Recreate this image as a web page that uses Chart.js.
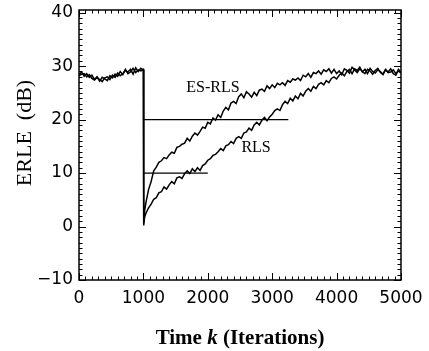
<!DOCTYPE html>
<html>
<head>
<meta charset="utf-8">
<script src="https://cdn.jsdelivr.net/npm/chart.js@4.4.1/dist/chart.umd.min.js"></script>
<style>
  html, body { margin: 0; padding: 0; background: #fff; }
  #wrap { width: 429px; height: 351px; }
</style>
</head>
<body>
<div id="wrap"><canvas id="erleChart"></canvas></div>
<script>
// Sample iterations (shared by both curves)
const iterations = [
  0, 40, 80, 120, 160, 200, 240, 280, 320, 360, 400, 440, 480, 520, 560, 600, 640, 680, 720, 760, 800, 840, 880, 920, 960, 1000,
  1005, 1020,
  1040, 1080, 1120, 1160, 1200, 1240, 1280, 1320, 1360, 1400, 1440, 1480, 1520, 1560, 1600, 1640, 1680, 1720, 1760, 1800, 1840, 1880, 1920, 1960, 2000,
  2040, 2080, 2120, 2160, 2200, 2240, 2280, 2320, 2360, 2400, 2440, 2480, 2520, 2560, 2600, 2640, 2680, 2720, 2760, 2800, 2840, 2880, 2920, 2960, 3000,
  3040, 3080, 3120, 3160, 3200, 3240, 3280, 3320, 3360, 3400, 3440, 3480, 3520, 3560, 3600, 3640, 3680, 3720, 3760, 3800, 3840, 3880, 3920, 3960, 4000,
  4040, 4080, 4120, 4160, 4200, 4240, 4280, 4320, 4360, 4400, 4440, 4480, 4520, 4560, 4600, 4640, 4680, 4720, 4760, 4800, 4840, 4880, 4920, 4960, 5000
];

// ERLE (dB) of ES-RLS
const esrlsErle = [
  28.4, 28.9, 28.1, 28.6, 27.9, 28.3, 27.5, 28.0, 27.2, 27.9, 27.6, 27.3, 28.2, 27.8, 28.5, 28.1, 29.0, 28.4, 29.4, 28.6, 28.9, 29.6, 28.8, 29.3, 29.1, 29.4,
  0.2, 3.0,
  4.5, 6.9, 8.4, 10.4, 11.1, 12.0, 12.3, 12.9, 12.7, 13.4, 13.9, 13.7, 14.8, 15.0, 15.4, 15.6, 16.5, 16.0, 16.9, 17.5, 17.1, 17.8, 18.6, 18.4, 19.5,
  19.2, 20.3, 19.9, 20.9, 20.4, 21.6, 22.3, 21.8, 23.1, 23.4, 23.0, 24.3, 24.8, 24.1, 25.2, 24.8, 24.2, 25.1, 24.5, 25.5, 25.7, 25.3, 26.3, 25.8, 26.5,
  26.0, 26.8, 26.5, 26.9, 26.4, 27.3, 27.0, 27.6, 27.4, 27.8, 27.3, 28.3, 28.0, 28.6, 27.9, 28.8, 28.6, 29.1, 28.5, 29.3, 29.0, 29.5, 28.7, 29.4, 28.6,
  29.1, 28.4, 29.5, 29.2, 28.7, 29.8, 29.3, 28.8, 29.5, 29.0, 28.6, 29.4, 29.1, 28.5, 29.2, 29.6, 28.8, 28.4, 29.3, 28.9, 29.5, 28.6, 28.3, 29.4, 28.9
];

// ERLE (dB) of RLS
const rlsErle = [
  28.2, 28.5, 28.6, 28.0, 28.4, 27.7, 27.4, 27.9, 27.5, 27.1, 27.8, 28.0, 27.5, 28.3, 27.9, 28.7, 28.2, 28.6, 29.2, 28.9, 29.4, 28.5, 29.7, 29.0, 29.6, 29.3,
  0.6, 1.8,
  2.5, 3.5, 4.2, 5.1, 5.4, 6.3, 6.5, 7.4, 7.0, 7.8, 8.4, 8.0, 9.1, 9.3, 9.0, 9.9, 10.4, 9.9, 10.8, 10.3, 11.0, 10.5, 11.4, 11.7, 12.4,
  12.7, 13.3, 13.5, 14.0, 14.6, 14.2, 15.1, 15.3, 15.9, 15.5, 16.5, 16.8, 16.5, 17.5, 17.7, 18.4, 18.0, 19.0, 19.5, 19.0, 19.9, 20.4, 19.8, 20.5, 21.0,
  21.7, 22.0, 21.7, 22.8, 23.4, 23.0, 24.0, 23.5, 24.4, 23.9, 24.9, 24.4, 25.3, 25.8, 25.3, 26.2, 25.8, 26.6, 26.9, 26.5, 27.3, 26.9, 27.7, 28.0, 27.6,
  28.3, 28.7, 28.2, 29.0, 29.4, 28.6, 29.5, 29.2, 29.8, 28.9, 29.4, 28.6, 29.6, 29.0, 28.7, 29.3, 29.0, 28.5, 29.4, 28.8, 28.9, 29.3, 28.6, 29.1, 28.7
];

// Horizontal reference levels (dB), start and end iterations
const refLevels = [20, 10];
const refStart = 1000;
const refEnds = [3250, 2000];

// Axis ticks
const xTicks = [0, 1000, 2000, 3000, 4000, 5000];
const yTicks = [-10, 0, 10, 20, 30, 40];

// Curve labels: text, iteration, dB
const curveLabels = ["ES-RLS", "RLS"];
const curveLabelIter = [2080, 2750];
const curveLabelDb = [26.0, 14.8];

const toPoints = (ys) => iterations.map((x, i) => ({ x: x, y: ys[i] }));

const curveStyle = {
  borderColor: "#000",
  borderWidth: 1.5,
  pointRadius: 0,
  tension: 0,
  fill: false,
};

const datasets = [
  Object.assign({ label: "ES-RLS", data: toPoints(esrlsErle) }, curveStyle),
  Object.assign({ label: "RLS", data: toPoints(rlsErle) }, curveStyle),
];
refLevels.forEach((lvl, i) => {
  datasets.push({
    label: "ref" + lvl,
    data: [{ x: refStart, y: lvl }, { x: refEnds[i], y: lvl }],
    borderColor: "#000",
    borderWidth: 1.2,
    pointRadius: 0,
    fill: false,
  });
});

// Tick label text, with a real minus sign
const tickText = (v) => (v < 0 ? "\u2212" + Math.abs(v) : String(v));

// Frame, inward ticks, titles and curve labels
const decorPlugin = {
  id: "decor",
  afterDraw(chart) {
    const ctx = chart.ctx;
    const a = chart.chartArea;
    const xs = chart.scales.x;
    const ys = chart.scales.y;
    ctx.save();
    ctx.strokeStyle = "#000";
    ctx.lineWidth = 1.5;
    ctx.strokeRect(a.left, a.top, a.right - a.left, a.bottom - a.top);

    ctx.lineWidth = 1;
    ctx.beginPath();
    for (let v = 0; v <= 5000; v += 100) {
      const px = Math.round(xs.getPixelForValue(v)) + 0.5;
      const len = v % 1000 === 0 ? 7 : 3.5;
      ctx.moveTo(px, a.bottom);
      ctx.lineTo(px, a.bottom - len);
      ctx.moveTo(px, a.top);
      ctx.lineTo(px, a.top + len);
    }
    for (let v = -10; v <= 40; v += 1) {
      const py = Math.round(ys.getPixelForValue(v)) + 0.5;
      const len = v % 10 === 0 ? 7 : 3.5;
      ctx.moveTo(a.left, py);
      ctx.lineTo(a.left + len, py);
      ctx.moveTo(a.right, py);
      ctx.lineTo(a.right - len, py);
    }
    ctx.stroke();

    // Curve labels
    ctx.fillStyle = "#000";
    ctx.font = "16px 'Liberation Serif', serif";
    ctx.textAlign = "center";
    ctx.textBaseline = "middle";
    curveLabels.forEach((t, i) => {
      ctx.fillText(t, xs.getPixelForValue(curveLabelIter[i]), ys.getPixelForValue(curveLabelDb[i]));
    });

    // X title with italic k
    const parts = [
      ["Time ", "bold 21px 'Liberation Serif', serif"],
      ["k", "italic bold 21px 'Liberation Serif', serif"],
      [" (Iterations)", "bold 21px 'Liberation Serif', serif"],
    ];
    let total = 0;
    parts.forEach((p) => {
      ctx.font = p[1];
      total += ctx.measureText(p[0]).width;
    });
    let cx = (a.left + a.right) / 2 - total / 2;
    ctx.textAlign = "left";
    ctx.textBaseline = "alphabetic";
    parts.forEach((p) => {
      ctx.font = p[1];
      ctx.fillText(p[0], cx, 344);
      cx += ctx.measureText(p[0]).width;
    });

    // Y title
    ctx.translate(25, 133);
    ctx.rotate(-Math.PI / 2);
    ctx.font = "22px 'Liberation Serif', serif";
    ctx.textAlign = "center";
    ctx.textBaseline = "middle";
    ctx.fillText("ERLE  (dB)", 0, 0);
    ctx.restore();
  },
};

document.addEventListener("DOMContentLoaded", function () {
  const tickFont = { family: "'DejaVu Sans', sans-serif", size: 17 };

  new Chart(document.getElementById("erleChart"), {
    type: "line",
    data: { datasets: datasets },
    options: {
      responsive: true,
      maintainAspectRatio: false,
      animation: false,
      layout: { padding: { top: 10, right: 28, left: 0, bottom: 0 } },
      plugins: { legend: { display: false }, tooltip: { enabled: false } },
      scales: {
        x: {
          type: "linear",
          min: 0,
          max: 5000,
          afterBuildTicks: (scale) => {
            scale.ticks = xTicks.map((v) => ({ value: v }));
          },
          afterFit: (scale) => {
            scale.height = 71;
            scale.paddingLeft = 0;
            scale.paddingRight = 0;
          },
          grid: { display: false, drawTicks: false },
          border: { display: false },
          ticks: { color: "#000", font: tickFont, padding: 8, maxRotation: 0, callback: tickText },
        },
        y: {
          type: "linear",
          min: -10,
          max: 40.5,
          afterBuildTicks: (scale) => {
            scale.ticks = yTicks.map((v) => ({ value: v }));
          },
          afterFit: (scale) => {
            scale.width = 79;
            scale.paddingTop = 0;
            scale.paddingBottom = 0;
          },
          grid: { display: false, drawTicks: false },
          border: { display: false },
          ticks: { color: "#000", font: tickFont, padding: 6, callback: tickText },
        },
      },
    },
    plugins: [decorPlugin],
  });
});
</script>
</body>
</html>
